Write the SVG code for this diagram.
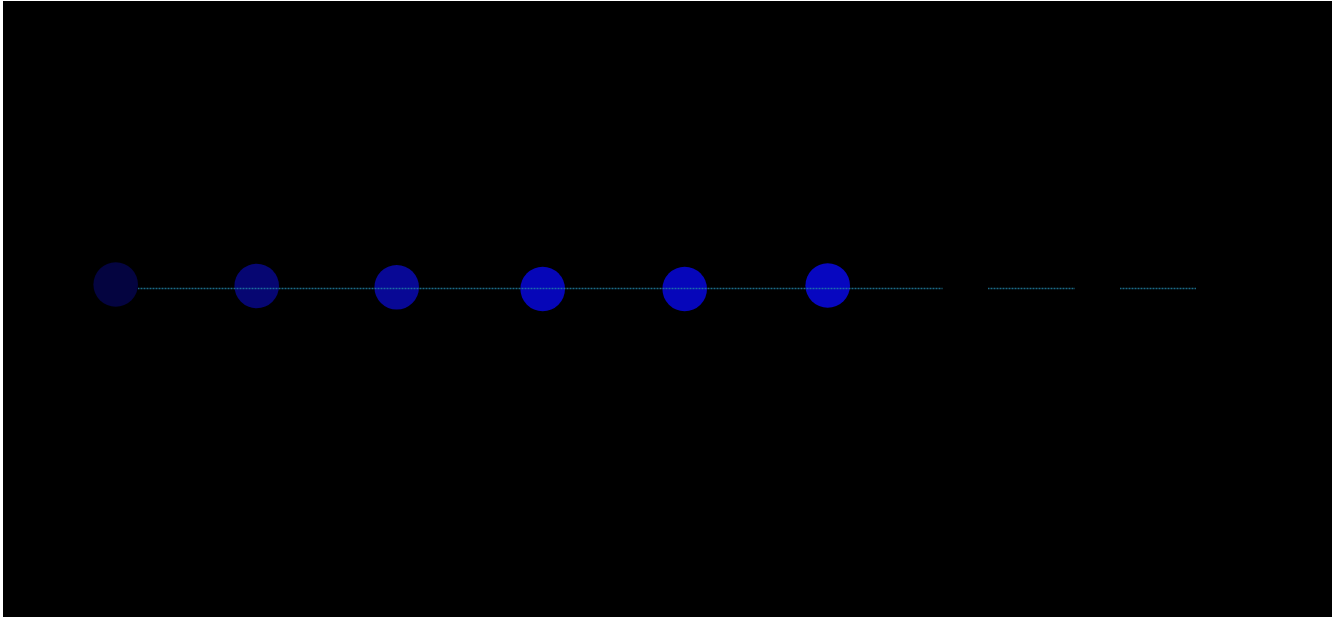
<svg xmlns="http://www.w3.org/2000/svg" width="1342" height="617" viewBox="0 0 1342 617">
<style>
.n{stroke:none}
.c{stroke:#2284a8;stroke-width:1.3;stroke-dasharray:1 0.5;opacity:0.8;fill:none}
</style>
<rect x="0" y="0" width="1342" height="617" fill="#ffffff"/>
<rect x="3" y="1" width="1329" height="616" fill="#000000"/>
<g id="node1"><circle class="n" cx="115.7" cy="284.5" r="22.3" fill="#040440"/></g>
<g id="node2"><circle class="n" cx="256.7" cy="286" r="22.3" fill="#060672"/></g>
<g id="node3"><circle class="n" cx="396.7" cy="287.3" r="22.3" fill="#080895"/></g>
<g id="node4"><circle class="n" cx="542.7" cy="289" r="22.3" fill="#0606b8"/></g>
<g id="node5"><circle class="n" cx="684.7" cy="289" r="22.3" fill="#0606ba"/></g>
<g id="node6"><circle class="n" cx="827.7" cy="285.5" r="22.3" fill="#0707c0"/></g>
<g id="connectors">
<line class="c" x1="138" y1="288.5" x2="942.5" y2="288.5"/>
<line class="c" x1="988" y1="288.5" x2="1075" y2="288.5"/>
<line class="c" x1="1120" y1="288.5" x2="1196" y2="288.5"/>
</g>
</svg>
